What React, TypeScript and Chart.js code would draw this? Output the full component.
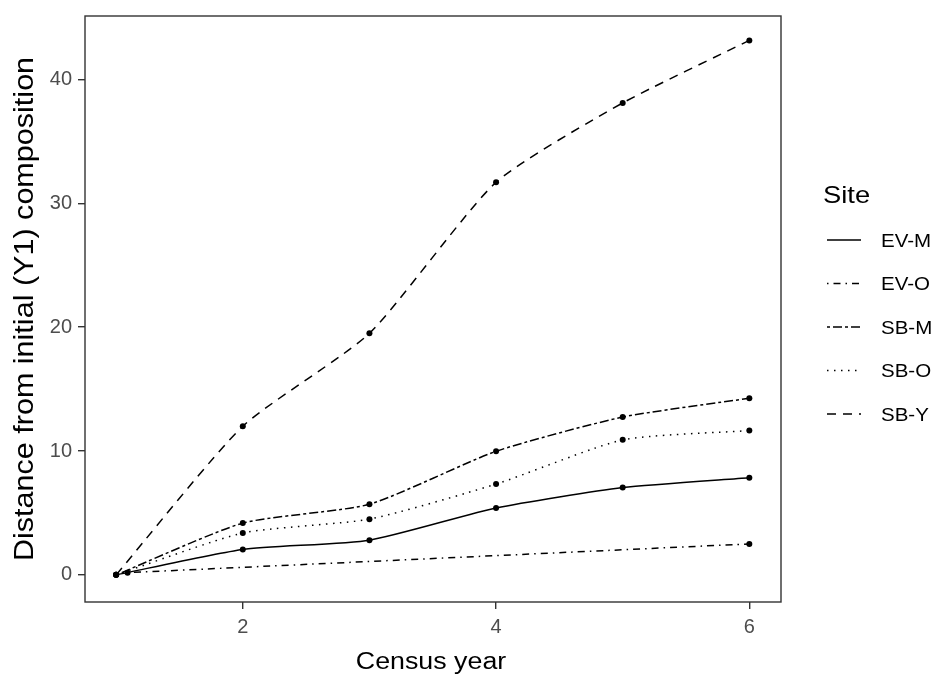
import React, { useEffect, useRef } from "react";
import { Chart, registerables } from "chart.js";

Chart.register(...registerables);

const years = [1, 2, 3, 4, 5, 6];
const evM = [0, 2.05, 2.8, 5.4, 7.05, 7.85];
const evOYears = [1.09, 6];
const evO = [0.18, 2.5];
const sbM = [0, 4.18, 5.7, 9.98, 12.74, 14.26];
const sbO = [0, 3.38, 4.5, 7.33, 10.9, 11.65];
const sbY = [0, 12.0, 19.5, 31.7, 38.1, 43.15];

const siteNames = ["EV-M", "EV-O", "SB-M", "SB-O", "SB-Y"];
const xTicks = [2, 4, 6];
const yTicks = [0, 10, 20, 30, 40];

const xTitle = "Census year";
const yTitle = "Distance from initial (Y1) composition";
const legendTitle = "Site";

const FONT = '"Liberation Sans", Arial, sans-serif';
const STRETCH = 1.14;

const dashes: number[][] = [[], [1.5, 5, 7, 5], [3, 3, 9, 3], [1.5, 5.5], [9, 7]];

function toPoints(xs: number[], ys: number[]) {
  return xs.map((x, i) => ({ x, y: ys[i] }));
}

const seriesData = [
  toPoints(years, evM),
  toPoints(evOYears, evO),
  toPoints(years, sbM),
  toPoints(years, sbO),
  toPoints(years, sbY),
];

function drawText(ctx: CanvasRenderingContext2D, text: string, x: number, y: number, size: number, align: CanvasTextAlign, rotate = 0) {
  ctx.save();
  ctx.translate(x, y);
  if (rotate) ctx.rotate(rotate);
  ctx.scale(STRETCH, 1);
  ctx.font = `${size}px ${FONT}`;
  ctx.textAlign = align;
  ctx.textBaseline = "alphabetic";
  ctx.fillText(text, 0, 0);
  ctx.restore();
}

const decorPlugin = {
  id: "decor",
  afterDraw(chart: any) {
    const { ctx, chartArea } = chart;
    ctx.save();
    ctx.strokeStyle = "#333333";
    ctx.lineWidth = 1.4;
    ctx.setLineDash([]);
    ctx.strokeRect(chartArea.left, chartArea.top, chartArea.right - chartArea.left, chartArea.bottom - chartArea.top);

    ctx.fillStyle = "#000000";
    drawText(ctx, xTitle, (chartArea.left + chartArea.right) / 2 - 2, 669, 23.5, "center");
    drawText(ctx, yTitle, 33, (chartArea.top + chartArea.bottom) / 2, 26.8, "center", -Math.PI / 2);

    drawText(ctx, legendTitle, 823, 203, 24, "left");
    const y0 = 240;
    const step = 43.5;
    siteNames.forEach((name, i) => {
      const y = y0 + i * step;
      ctx.beginPath();
      ctx.setLineDash(dashes[i]);
      ctx.lineWidth = 1.5;
      ctx.strokeStyle = "#000000";
      ctx.moveTo(827, y);
      ctx.lineTo(861, y);
      ctx.stroke();
      ctx.setLineDash([]);
      ctx.fillStyle = "#000000";
      drawText(ctx, name, 881, y + 6.5, 18, "left");
    });
    ctx.restore();
  },
};

export default function App() {
  const ref = useRef<HTMLCanvasElement | null>(null);
  useEffect(() => {
    document.body.style.margin = "0";
    const canvas = ref.current;
    if (!canvas) return;
    const chart = new Chart(canvas, {
      type: "scatter",
      data: {
        datasets: seriesData.map((d, i) => ({
          label: siteNames[i],
          data: d,
          showLine: true,
          borderColor: "#000000",
          backgroundColor: "#000000",
          borderWidth: 1.5,
          borderDash: dashes[i],
          pointRadius: 3,
          pointBorderWidth: 0,
          pointBackgroundColor: "#000000",
          tension: 0.2,
        })),
      },
      options: {
        responsive: false,
        animation: false,
        events: [],
        layout: { padding: { top: 11, right: 155, left: 0, bottom: 0 } },
        plugins: { legend: { display: false }, tooltip: { enabled: false } },
        scales: {
          x: {
            type: "linear",
            min: 0.754,
            max: 6.25,
            afterBuildTicks: (s: any) => {
              s.ticks = xTicks.map((v) => ({ value: v }));
            },
            afterFit: (s: any) => {
              s.height = 75;
            },
            ticks: {
              color: "#4D4D4D",
              font: { family: FONT, size: 20 },
              padding: 6,
              callback: (v: any) => String(v),
            },
            grid: { drawOnChartArea: false, tickLength: 7, color: "#333333", lineWidth: 1.4 },
            border: { display: false },
          },
          y: {
            type: "linear",
            min: -2.19,
            max: 45.12,
            afterBuildTicks: (s: any) => {
              s.ticks = yTicks.map((v) => ({ value: v }));
            },
            afterFit: (s: any) => {
              s.width = 85;
            },
            ticks: {
              color: "#4D4D4D",
              font: { family: FONT, size: 20, lineHeight: 1 },
              padding: 6,
              callback: (v: any) => String(v),
            },
            grid: { drawOnChartArea: false, tickLength: 7, color: "#333333", lineWidth: 1.4 },
            border: { display: false },
          },
        },
      },
      plugins: [decorPlugin],
    });
    return () => chart.destroy();
  }, []);
  return <canvas ref={ref} width={936} height={677} style={{ display: "block" }} />;
}
